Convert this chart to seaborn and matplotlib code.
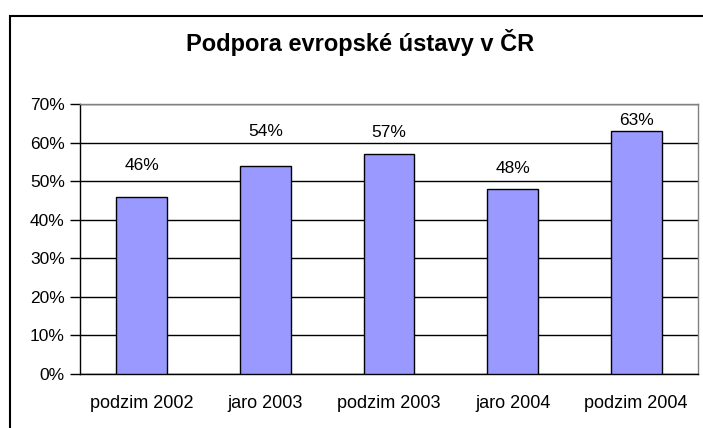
import matplotlib
matplotlib.use("Agg")
import matplotlib.pyplot as plt
import seaborn as sns
import pandas as pd
from matplotlib.patches import Rectangle
from matplotlib.ticker import FixedLocator

# data
obdobi = ["podzim 2002", "jaro 2003", "podzim 2003", "jaro 2004", "podzim 2004"]
podpora = [46, 54, 57, 48, 63]
# where the value labels sit (in % units), they are placed by hand in the original
label_y = [54.1, 63.0, 62.7, 53.2, 65.8]
title = "Podpora evropské ústavy v ČR"

sns.set_style("white")
plt.rcParams['font.family'] = ['Liberation Sans', 'DejaVu Sans']
plt.rcParams['text.color'] = 'black'
plt.rcParams['xtick.color'] = 'black'
plt.rcParams['ytick.color'] = 'black'

df = pd.DataFrame({"obdobi": obdobi, "podpora": podpora})

fig = plt.figure(figsize=(7.03, 4.28), dpi=100)
ax = fig.add_axes([80 / 703, 1 - 374 / 428, 618 / 703, 270 / 428])

sns.barplot(data=df, x="obdobi", y="podpora", order=obdobi, color="#9999FF",
            saturation=1, width=0.41, edgecolor="black", linewidth=1, ax=ax, zorder=3)

ax.set_ylim(0, 70)
ax.set_xlim(-0.5, len(obdobi) - 0.5)
ax.set_yticks(range(0, 71, 10))
ax.set_yticklabels([f"{v}%" for v in range(0, 71, 10)], fontsize=12.5)
ax.set_xticks(range(len(obdobi)))
ax.set_xticklabels(obdobi, fontsize=13)
ax.xaxis.set_minor_locator(FixedLocator([i - 0.5 for i in range(len(obdobi) + 1)]))
ax.tick_params(axis="x", which="major", length=0, pad=15)
ax.tick_params(axis="x", which="minor", length=6, width=1, color="black", direction="out")
ax.tick_params(axis="y", length=7, width=1, color="black", direction="out", left=True, pad=4)
ax.set_xlabel("")
ax.set_ylabel("")

ax.yaxis.grid(True, color="black", linewidth=1)
ax.set_axisbelow(True)
for s in ["top", "right"]:
    ax.spines[s].set_color("#808080")
    ax.spines[s].set_linewidth(1)
for s in ["left", "bottom"]:
    ax.spines[s].set_color("black")
    ax.spines[s].set_linewidth(1)

for i, (v, ly) in enumerate(zip(podpora, label_y)):
    ax.text(i, ly, f"{v}%", ha="center", va="center", fontsize=12.5)

fig.text(0.512, 1 - 42 / 428, title, ha="center", va="center",
         fontsize=17, fontweight="bold")

# outer chart border (cropped on right and bottom)
fig.patches.append(Rectangle((10 / 703, -0.1), 1.2, 1 - 16 / 428 + 0.1,
                             transform=fig.transFigure, fill=False,
                             edgecolor="black", linewidth=1.5))

fig.savefig("out.png", dpi=100)
